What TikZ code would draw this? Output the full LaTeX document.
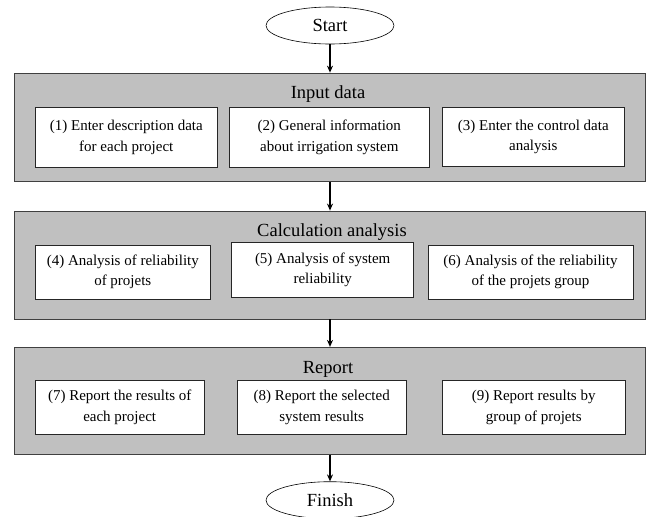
\documentclass[tikz,border=0pt]{standalone}
\usepackage{fontspec}
\setmainfont{Liberation Serif}
\usetikzlibrary{arrows.meta,shapes.geometric}
\definecolor{panelgray}{rgb}{0.753, 0.753, 0.753}
\definecolor{panelline}{rgb}{0.25, 0.25, 0.25}
\definecolor{boxline}{rgb}{0.15, 0.15, 0.15}
\tikzset{
  terminal/.style={draw=black, ellipse, line width=0.6pt, fill=white,
    minimum width=128pt, minimum height=37pt, inner sep=0pt,
    font=\fontsize{18.5}{22}\selectfont},
  panel/.style={draw=panelline, fill=panelgray, line width=0.8pt,
    minimum width=631pt, inner sep=0pt},
  paneltitle/.style={inner sep=0pt, font=\fontsize{18.5}{22}\selectfont},
  stepbox/.style={draw=boxline, fill=white, line width=0.8pt, align=center,
    inner sep=0pt, font=\fontsize{15}{20.5}\selectfont},
  flow/.style={line width=1.3pt, -{Stealth[length=7pt,width=6pt]}}
}

\begin{document}
\begin{tikzpicture}[x=1pt,y=1pt]
      \useasboundingbox (0,0) rectangle (646,-517);

      \node [terminal] (start) at (330,-25.5) {Start};

      % input data
      \node [panel, minimum height=108.5pt] (input) at (330,-127.3) {};
      \node [paneltitle] (inputtitle) at (328,-94) {Input data};
      \node [stepbox, minimum width=182.7pt, minimum height=60pt] (enter) at (126.3,-137.3)
        {(1) Enter description data\\for each project};
      \node [stepbox, minimum width=200pt, minimum height=60pt] (general) at (329.3,-137.3)
        {(2) General information\\about irrigation system};
      \node [stepbox, minimum width=182pt, minimum height=59.4pt] (control) at (533.3,-137)
        {(3) Enter the control data\\analysis};

      % calculation analysis
      \node [panel, minimum height=108pt] (calc) at (330,-265) {};
      \node [paneltitle] (calctitle) at (332,-232) {Calculation analysis};
      \node [stepbox, minimum width=175.7pt, minimum height=54pt] (projrel) at (122.8,-272)
        {(4) Analysis of reliability\\of projets};
      \node [stepbox, minimum width=182pt, minimum height=54.3pt] (sysrel) at (322.7,-269.8)
        {(5) Analysis of system\\reliability};
      \node [stepbox, minimum width=205pt, minimum height=54pt] (grouprel) at (530.5,-272)
        {(6) Analysis of the reliability\\of the projets group};

      % report
      \node [panel, minimum height=107pt] (report) at (330,-400.8) {};
      \node [paneltitle] (reporttitle) at (328,-369) {Report};
      \node [stepbox, minimum width=169.3pt, minimum height=53.6pt] (eachres) at (119.7,-407.5)
        {(7) Report the results of\\each project};
      \node [stepbox, minimum width=168.7pt, minimum height=53.6pt] (sysres) at (321.7,-407.5)
        {(8) Report the selected\\system results};
      \node [stepbox, minimum width=182.7pt, minimum height=53.6pt] (groupres) at (533.7,-407.5)
        {(9) Report results by\\group of projets};

      \node [terminal] (finish) at (330,-500.2) {Finish};

      \draw [flow] (start) -- (input);
      \draw [flow] (input) -- (calc);
      \draw [flow] (calc) -- (report);
      \draw [flow] (report) -- (finish);
    \end{tikzpicture}
\end{document}
